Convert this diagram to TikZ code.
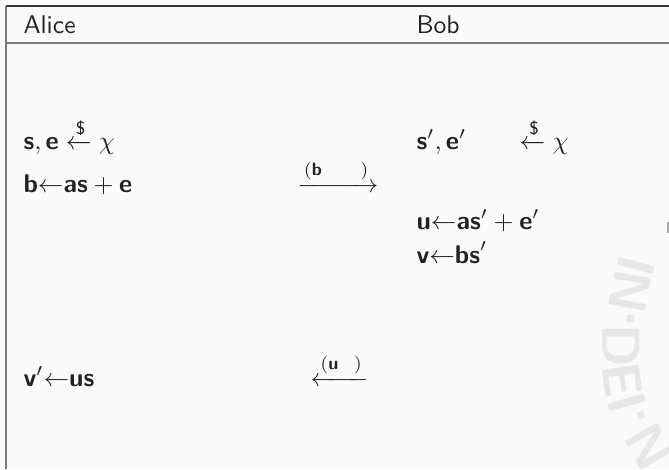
\documentclass[tikz,border=0pt]{standalone}
\usepackage{amsmath}
\usepackage{fontspec}
\definecolor{bg}{HTML}{FAFAFA}
\definecolor{wm}{HTML}{E7E7E7}
\definecolor{ink}{HTML}{222222}
\definecolor{rule}{HTML}{7A7A7A}
\definecolor{toprule}{HTML}{333333}
\definecolor{edgemark}{HTML}{AAAAAA}
\newcommand\vb[1]{\text{\normalfont\sffamily\bfseries #1}}
\newcommand\sdollar{\text{\normalfont\sffamily\$}}
\tikzset{
  txt/.style={anchor=base west, inner sep=0pt, text=ink, font=\sffamily},
  wml/.style={inner sep=0pt, text=wm, font=\sffamily\bfseries\fontsize{21}{23}\selectfont},
}
\begin{document}
\begin{tikzpicture}[x=0.39pt, y=-0.39pt]
\useasboundingbox[fill=bg] (0,0) rectangle (669,469);
% watermark
\begin{scope}
\clip (0,0) rectangle (669,469);
\node[wml, rotate=-105] (w1) at (636,266) {I};
\node[wml, rotate=-100] (w2) at (630,292) {N};
\node[wml, rotate=-95]  (w3) at (624,318) {·};
\node[wml, rotate=-90]  (w4) at (621,346) {D};
\node[wml, rotate=-82]  (w5) at (622,380) {E};
\node[wml, rotate=-74]  (w6) at (627,403) {I};
\node[wml, rotate=-68]  (w7) at (634,419) {·};
\node[wml, rotate=-60]  (w8) at (649,447) {N};
\end{scope}
% table rules
\draw[toprule, line width=0.8pt] (6,6) -- (669,6);
\draw[rule, line width=0.8pt] (6,43) -- (669,43);
\draw[rule, line width=0.6pt] (6,6) -- (6,469);
\fill[edgemark] (667,222) rectangle (669,233);
% header
\node[txt] (alice) at (23,33) {Alice};
\node[txt] (bob) at (416,33) {Bob};
% Alice side
\node[txt] (se) at (23,149) {$\vb{s}, \vb{e} \xleftarrow{\sdollar} \chi$};
\node[txt] (bv) at (23,192) {$\vb{b}{\leftarrow}\vb{as}+\vb{e}$};
\node[txt] (vp) at (23,386) {$\vb{v}'{\leftarrow}\vb{us}$};
% messages
\node[txt] (mb) at (297,192) {$\xrightarrow{(\vb{b}\hspace{15pt})}$};
\node[txt] (mu) at (310,386) {$\xleftarrow{(\vb{u}\hspace{6pt})}$};
% Bob side
\node[txt] (sp) at (416,149) {$\vb{s}', \vb{e}'\hspace{18pt} \xleftarrow{\sdollar} \chi$};
\node[txt] (uv) at (416,229) {$\vb{u}{\leftarrow}\vb{as}'+\vb{e}'$};
\node[txt] (vv) at (416,263) {$\vb{v}{\leftarrow}\vb{bs}'$};
\end{tikzpicture}
\end{document}
